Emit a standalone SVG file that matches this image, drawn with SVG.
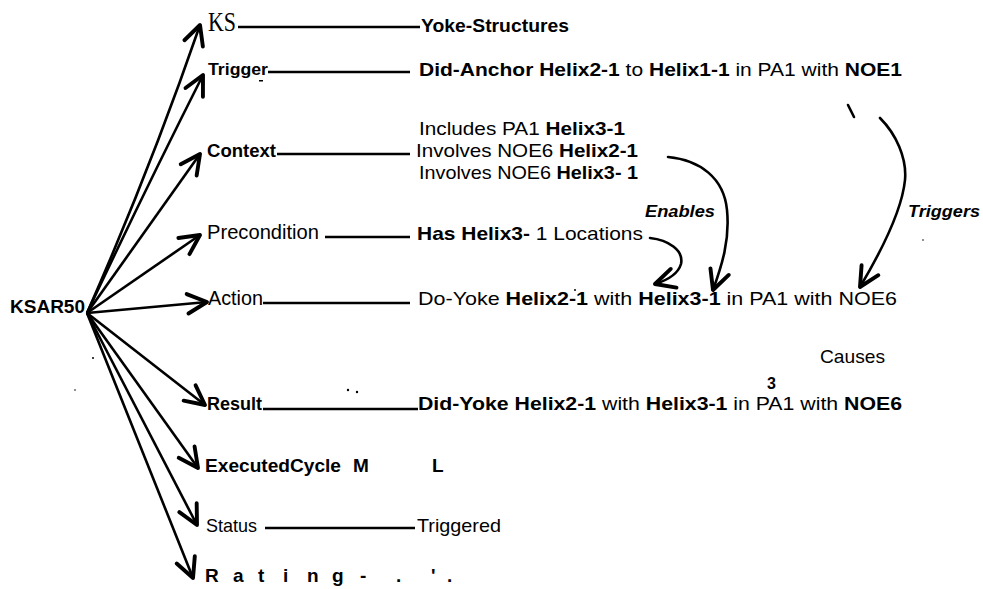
<svg xmlns="http://www.w3.org/2000/svg" width="983" height="589" viewBox="0 0 983 589">
<defs>
<marker id="v" markerUnits="userSpaceOnUse" markerWidth="30" markerHeight="30" viewBox="-16 -10 20 20" refX="0" refY="0" orient="auto" overflow="visible">
<path d="M -13 -6.5 L 0 0 L -13 6.5" fill="none" stroke="#000" stroke-width="2.6" stroke-linecap="round" stroke-linejoin="round"/>
</marker>
</defs>
<style>
text { font-family: "Liberation Sans", Arial, sans-serif; fill: #000; }
.b { font-weight: bold; }
.n { font-weight: normal; }
.it { font-style: italic; font-weight: bold; }
.serif { font-family: "Liberation Serif", "Times New Roman", serif; }
.fan { stroke: #000; stroke-width: 2.6; fill: none; marker-end: url(#v); }
.rel { stroke: #000; stroke-width: 2.6; fill: none; }
.curve { stroke: #000; stroke-width: 2.6; fill: none; stroke-linecap: round; marker-end: url(#v); }
</style>

<g id="ksar50"><text x="10" y="313" font-size="18" class="b" textLength="75" lengthAdjust="spacingAndGlyphs">KSAR50</text></g>

<g id="ks">
<text x="208" y="31" font-size="28" class="serif" textLength="28" lengthAdjust="spacingAndGlyphs">KS</text>
<text x="421" y="32" font-size="18" class="b" textLength="148" lengthAdjust="spacingAndGlyphs">Yoke-Structures</text>
</g>

<g id="trigger">
<text x="208" y="75" font-size="17" class="b" textLength="60" lengthAdjust="spacingAndGlyphs">Trigger</text>
<text x="419" y="76" font-size="19" textLength="483" lengthAdjust="spacingAndGlyphs"><tspan class="b">Did-Anchor Helix2-1</tspan><tspan class="n"> to </tspan><tspan class="b">Helix1-1</tspan><tspan class="n"> in PA1 with </tspan><tspan class="b">NOE1</tspan></text>
</g>

<g id="context">
<text x="207" y="157" font-size="18" class="b" textLength="69" lengthAdjust="spacingAndGlyphs">Context</text>
<text x="419" y="135" font-size="19" textLength="206" lengthAdjust="spacingAndGlyphs"><tspan class="n">Includes PA1 </tspan><tspan class="b">Helix3-1</tspan></text>
<text x="416" y="157" font-size="19" textLength="222" lengthAdjust="spacingAndGlyphs"><tspan class="n">Involves NOE6 </tspan><tspan class="b">Helix2-1</tspan></text>
<text x="419" y="179" font-size="19" textLength="219" lengthAdjust="spacingAndGlyphs"><tspan class="n">Involves NOE6 </tspan><tspan class="b">Helix3- 1</tspan></text>
</g>

<g id="precondition">
<text x="207" y="239" font-size="20" class="n" textLength="112" lengthAdjust="spacingAndGlyphs">Precondition</text>
<text x="417" y="240" font-size="19" textLength="226" lengthAdjust="spacingAndGlyphs"><tspan class="b">Has Helix3- </tspan><tspan class="n">1 Locations</tspan></text>
</g>

<g id="action">
<text x="208" y="305" font-size="20" class="n" textLength="55" lengthAdjust="spacingAndGlyphs">Action</text>
<text x="418" y="305" font-size="19" textLength="479" lengthAdjust="spacingAndGlyphs"><tspan class="n">Do-Yoke </tspan><tspan class="b">Helix2-1</tspan><tspan class="n"> with </tspan><tspan class="b">Helix3-1</tspan><tspan class="n"> in PA1 with NOE6</tspan></text>
</g>

<g id="result">
<text x="207" y="410" font-size="18" class="b" textLength="55" lengthAdjust="spacingAndGlyphs">Result</text>
<text x="418" y="410" font-size="19" textLength="484" lengthAdjust="spacingAndGlyphs"><tspan class="b">Did-Yoke Helix2-1</tspan><tspan class="n"> with </tspan><tspan class="b">Helix3-1</tspan><tspan class="n"> in PA1 with </tspan><tspan class="b">NOE6</tspan></text>
<text x="767" y="389" font-size="16" class="b">3</text>
</g>

<g id="executedcycle">
<text x="205" y="472" font-size="19" class="b" textLength="136" lengthAdjust="spacingAndGlyphs">ExecutedCycle</text>
<text x="353" y="472" font-size="19" class="b">M</text>
<text x="432" y="472" font-size="19" class="b">L</text>
</g>

<g id="status">
<text x="206" y="532" font-size="19" class="n" textLength="51" lengthAdjust="spacingAndGlyphs">Status</text>
<text x="417" y="532" font-size="19" class="n" textLength="84" lengthAdjust="spacingAndGlyphs">Triggered</text>
</g>

<g id="rating">
<text y="582" font-size="19" class="b"><tspan x="205">R</tspan><tspan x="233">a</tspan><tspan x="258">t</tspan><tspan x="283">i</tspan><tspan x="307">n</tspan><tspan x="332">g</tspan><tspan x="360">-</tspan><tspan x="396">.</tspan><tspan x="431">'</tspan><tspan x="447">.</tspan></text>
</g>

<g id="labels">
<text x="645" y="217" font-size="17" class="it" textLength="70" lengthAdjust="spacingAndGlyphs">Enables</text>
<text x="908" y="217" font-size="17" class="it" textLength="72" lengthAdjust="spacingAndGlyphs">Triggers</text>
<text x="820" y="363" font-size="19" class="n" textLength="65" lengthAdjust="spacingAndGlyphs">Causes</text>
</g>

<g id="connectors">
<path class="fan" d="M 87 313 Q 150 170 200 25"/>
<path class="fan" d="M 87 313 Q 145 190 203 75"/>
<line class="fan" x1="87" y1="313" x2="200" y2="154"/>
<line class="fan" x1="87" y1="313" x2="200" y2="235"/>
<line class="fan" x1="87" y1="313" x2="207" y2="302"/>
<line class="fan" x1="87" y1="313" x2="205" y2="405"/>
<line class="fan" x1="87" y1="313" x2="198" y2="468"/>
<line class="fan" x1="87" y1="313" x2="197" y2="525"/>
<line class="fan" x1="87" y1="313" x2="193" y2="578"/>

<line class="rel" x1="238" y1="27" x2="420" y2="27" stroke-width="3.2"/>
<line class="rel" x1="268" y1="72" x2="410" y2="72"/>
<line class="rel" x1="277" y1="154" x2="410" y2="154"/>
<line class="rel" x1="325" y1="237" x2="410" y2="237"/>
<line class="rel" x1="263" y1="303" x2="410" y2="303" stroke-width="3.2"/>
<line class="rel" x1="263" y1="409" x2="418" y2="409"/>
<line class="rel" x1="265" y1="528" x2="415" y2="528" stroke-width="3.8"/>

<path class="curve" d="M 668 157 C 700 160 724 178 727 210 C 730 240 722 265 713 290"/>
<path class="curve" d="M 650 238 C 668 240 684 250 681 264 C 678 274 668 280 655 284"/>
<path class="curve" d="M 880 118 C 896 134 907 158 905 180 C 902 210 882 250 860 287"/>
<line class="rel" x1="848" y1="105" x2="854" y2="117" stroke-linecap="round"/>
</g>

<g id="specks" fill="#000">
<circle cx="348" cy="390" r="1.2"/>
<circle cx="357" cy="392" r="1.2"/>
<circle cx="93" cy="358" r="1"/>
<circle cx="75" cy="390" r="0.8"/>
<circle cx="575" cy="290" r="1"/>
<circle cx="923" cy="240" r="0.8"/>
<rect x="259" y="80" width="4" height="1.5"/>
</g>
</svg>
